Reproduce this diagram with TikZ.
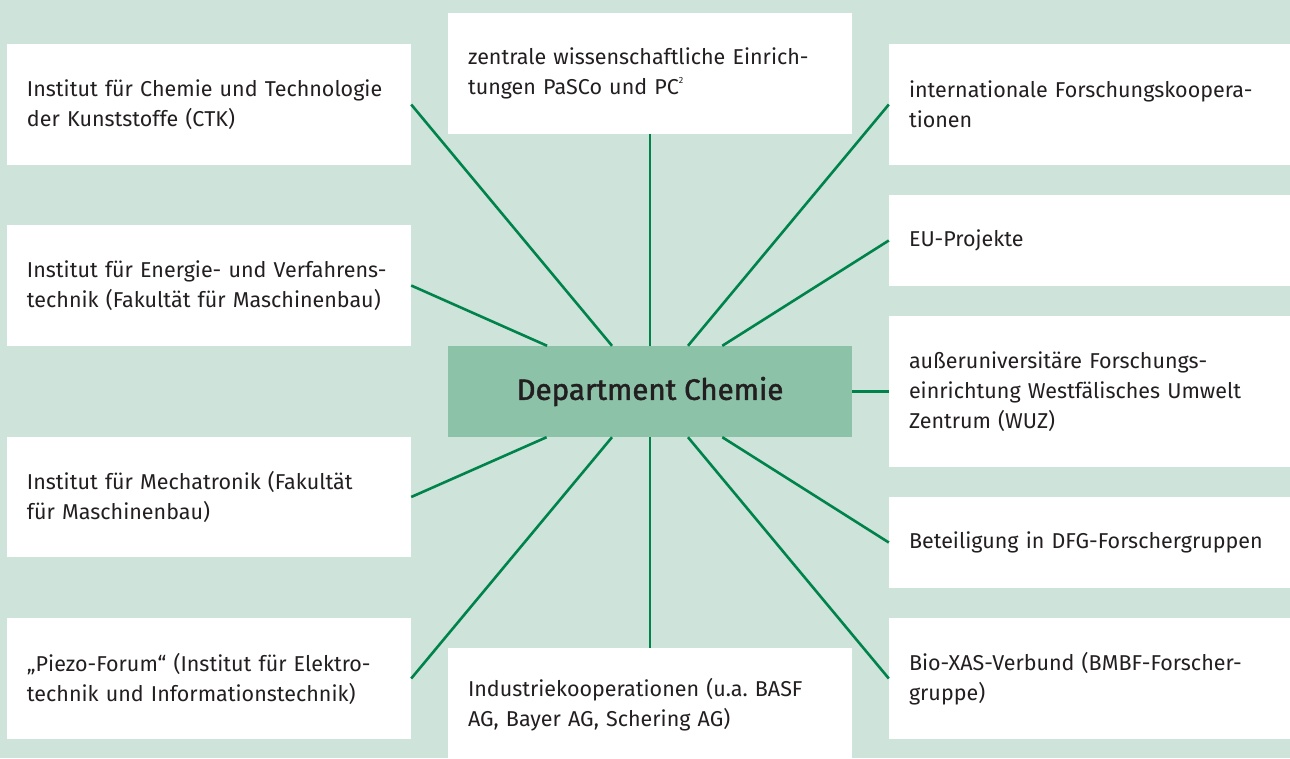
\documentclass[tikz,border=0pt]{standalone}
\usepackage{fontspec}
\setmainfont{Fira Sans}
\newfontfamily\titlefont{Fira Sans}[FakeBold=1.6]
\frenchspacing
\definecolor{bgc}{HTML}{CEE3DA}
\definecolor{midc}{HTML}{8BC2A8}
\definecolor{linec}{HTML}{00834B}
\definecolor{txtc}{HTML}{231F20}
\tikzset{
  box/.style={rectangle, fill=white, inner xsep=20pt, inner ysep=0pt, align=left,
    font=\fontsize{21.5}{30}\selectfont, text=txtc},
  lbox/.style={box, text width=364pt, minimum height=121pt},
  rbox/.style={box, text width=361pt},
  conn/.style={draw=linec, line width=2.6pt},
}
\begin{document}
\begin{tikzpicture}[x=1pt,y=-1pt]
\clip (0,0) rectangle (1290,758);
\fill[bgc] (0,0) rectangle (1290,758);
\node[rectangle, fill=midc, minimum width=404pt, minimum height=91pt, inner sep=0pt,
  font=\titlefont\fontsize{29.5}{34}\selectfont, text=txtc] (dept) at (650,391.5) {Department Chemie};
\node[lbox] (L1) at (209,104.5) {Institut für Chemie und Technologie\\der Kunststoffe (CTK)};
\node[lbox] (L2) at (209,285.5) {Institut für Energie- und Verfahrens-\\technik (Fakultät für Maschinenbau)};
\node[lbox, minimum height=120pt] (L3) at (209,497) {Institut für Mechatronik (Fakultät\\für Maschinenbau)};
\node[lbox] (L4) at (209,678.5) {„Piezo-Forum“ (Institut für Elektro-\\technik und Informationstechnik)};
\node[lbox] (T) at (650,73.5) {zentrale wissenschaftliche Einrich-\\tungen PaSCo und PC\raisebox{0.5em}{\fontsize{9}{9}\selectfont 2}};
\node[lbox, minimum height=114pt] (B) at (650,705) {Industriekooperationen (u.a. BASF\\AG, Bayer AG, Schering AG)};
\node[rbox, minimum height=121pt] (R1) at (1089.5,104.5) {internationale Forschungskoopera-\\tionen};
\node[rbox, minimum height=91pt] (R2) at (1089.5,240.5) {EU-Projekte};
\node[rbox, minimum height=151pt] (R3) at (1089.5,391.5) {außeruniversitäre Forschungs-\\einrichtung Westfälisches Umwelt\\Zentrum (WUZ)};
\node[rbox, minimum height=91pt] (R4) at (1089.5,542.5) {Beteiligung in DFG-Forschergruppen};
\node[rbox, minimum height=121pt] (R5) at (1089.5,678.5) {Bio-XAS-Verbund (BMBF-Forscher-\\gruppe)};
\draw[conn] (L1.east) -- (dept);
\draw[conn] (L2.east) -- (dept);
\draw[conn] (L3.east) -- (dept);
\draw[conn] (L4.east) -- (dept);
\draw[conn] (T.south) -- (dept);
\draw[conn] (B.north) -- (dept);
\draw[conn] (R1.west) -- (dept);
\draw[conn] (R2.west) -- (dept);
\draw[conn] (R3.west) -- (dept);
\draw[conn] (R4.west) -- (dept);
\draw[conn] (R5.west) -- (dept);
\end{tikzpicture}
\end{document}
